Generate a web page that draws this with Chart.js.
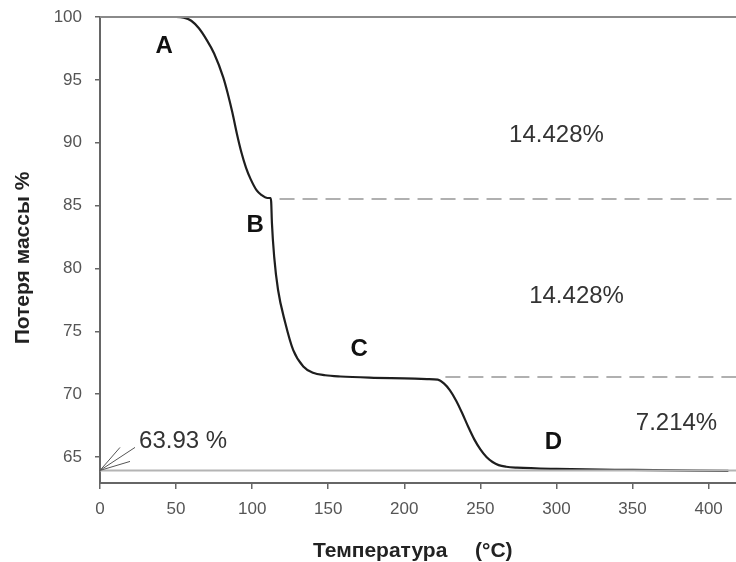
<!DOCTYPE html>
<html lang="ru">
<head>
<meta charset="utf-8">
<title>Потеря массы</title>
<script src="https://cdn.jsdelivr.net/npm/chart.js@4.4.1/dist/chart.umd.min.js"></script>
<style>
  html, body { margin: 0; padding: 0; background: #fff; }
  canvas { display: block; }
</style>
</head>
<body>
<canvas id="tga" width="736" height="562"></canvas>
<script>
(function () {
  'use strict';

  // TGA curve
  var TEMP = [24, 40, 50, 55, 60, 65, 70, 75, 81, 84, 87, 90, 93, 96, 99, 103, 106, 110, 112,
              112.5, 113, 114.5, 117, 121.7, 127, 133.6, 140, 148, 158, 180, 200, 215, 222,
              226, 230, 234, 238, 242, 246, 250, 254, 258, 262, 267, 274, 300, 350, 413];
  var MASS = [100, 100, 100, 99.95, 99.7, 99.1, 98.2, 97.1, 95.2, 93.9, 92.4, 90.7, 89.2, 88.0, 87.1, 86.2, 85.85, 85.6, 85.6,
              85.3, 83.6, 80.9, 78.3, 75.7, 73.5, 72.2, 71.7, 71.5, 71.4, 71.3, 71.25, 71.2, 71.15,
              70.85, 70.3, 69.5, 68.5, 67.4, 66.4, 65.6, 65.0, 64.6, 64.35, 64.22, 64.15, 64.05, 63.97, 63.9];

  var X_TICKS = [0, 50, 100, 150, 200, 250, 300, 350, 400];
  var Y_TICKS = [65, 70, 75, 80, 85, 90, 95, 100];
  var X_MAX = 418;
  var Y_MIN = 62.93;

  var START_LEVEL = 100;
  var RESIDUE = 63.93;
  var STEP_LEVELS = [85.52, 71.36];
  var STEP_FROM = [118, 227];

  var STAGES = ['A', 'B', 'C', 'D'];
  var LOSSES = ['14.428%', '14.428%', '7.214%'];

  var TEXT_FONT = "'Liberation Sans', Arial, sans-serif";

  function pts(xs, ys) {
    return xs.map(function (x, i) { return { x: x, y: ys[i] }; });
  }
  function hline(y, x0, x1) {
    return [{ x: x0, y: y }, { x: x1, y: y }];
  }

  var datasets = [
    { data: hline(START_LEVEL, 0, X_MAX), borderColor: '#8a8a8a', borderWidth: 2, clip: 4 },
    { data: hline(RESIDUE, 0, X_MAX), borderColor: '#b4b4b4', borderWidth: 2 },
    { data: hline(STEP_LEVELS[0], STEP_FROM[0], X_MAX), borderColor: '#b0b0b0', borderWidth: 2, borderDash: [15, 8] },
    { data: hline(STEP_LEVELS[1], STEP_FROM[1], X_MAX), borderColor: '#b0b0b0', borderWidth: 2, borderDash: [15, 8] },
    { data: pts(TEMP, MASS), borderColor: '#1e1e1e', borderWidth: 2.2, cubicInterpolationMode: 'monotone' }
  ];

  // stage letters, loss percentages, residue note and axis titles
  var annotations = {
    id: 'annotations',
    afterDatasetsDraw: function (chart) {
      var c = chart.ctx, xs = chart.scales.x, ys = chart.scales.y;
      function px(v) { return xs.getPixelForValue(v); }
      function py(v) { return ys.getPixelForValue(v); }
      function text(str, x, y, font, color) {
        c.font = font; c.fillStyle = color;
        c.textAlign = 'center'; c.textBaseline = 'middle';
        c.fillText(str, x, y);
      }
      c.save();
      var stagePos = [[42.1, 97.69], [102, 83.45], [170.4, 73.59], [298, 66.19]];
      STAGES.forEach(function (s, i) {
        text(s, px(stagePos[i][0]), py(stagePos[i][1]), 'bold 24px ' + TEXT_FONT, '#111');
      });
      var lossPos = [[300, 90.61], [313.2, 77.81], [378.9, 67.70]];
      LOSSES.forEach(function (s, i) {
        text(s, px(lossPos[i][0]), py(lossPos[i][1]), '24px ' + TEXT_FONT, '#333');
      });
      text(RESIDUE + ' %', px(54.6), py(66.27), '24px ' + TEXT_FONT, '#333');

      // little fan of leader lines from the residue level at 0 °C
      var ox = px(0), oy = py(RESIDUE);
      c.strokeStyle = '#555'; c.lineWidth = 1;
      [[20, -23], [35, -23], [30, -9]].forEach(function (d) {
        c.beginPath(); c.moveTo(ox, oy); c.lineTo(ox + d[0], oy + d[1]); c.stroke();
      });

      // axis titles
      c.fillStyle = '#222';
      c.font = 'bold 21px ' + TEXT_FONT;
      c.textAlign = 'left'; c.textBaseline = 'alphabetic';
      c.fillText('Температура', 313, 557);
      c.fillText('(°C)', 475, 557);
      c.translate(29, 258);
      c.rotate(-Math.PI / 2);
      c.textAlign = 'center';
      c.fillText('Потеря массы %', 0, 0);
      c.restore();
    }
  };

  function keepTicks(list) {
    return function (scale) {
      scale.ticks = list.map(function (v) { return { value: v }; });
    };
  }

  new Chart(document.getElementById('tga'), {
    type: 'line',
    data: { datasets: datasets },
    options: {
      responsive: false,
      animation: false,
      devicePixelRatio: 1,
      layout: { padding: { top: 17, right: 0, left: 0, bottom: 0 } },
      elements: { point: { radius: 0 }, line: { fill: false } },
      plugins: { legend: { display: false }, tooltip: { enabled: false } },
      scales: {
        x: {
          type: 'linear', min: 0, max: X_MAX,
          afterBuildTicks: keepTicks(X_TICKS),
          afterFit: function (s) { s.height = 79; s.paddingLeft = 0; s.paddingRight = 0; },
          grid: { drawOnChartArea: false, tickLength: 6, color: '#666', lineWidth: 1.5 },
          border: { color: '#666', width: 2 },
          ticks: { padding: 10, color: '#555', font: { family: TEXT_FONT, size: 17 }, maxRotation: 0 }
        },
        y: {
          type: 'linear', min: Y_MIN, max: 100,
          afterBuildTicks: keepTicks(Y_TICKS),
          afterFit: function (s) { s.width = 100; s.paddingTop = 0; s.paddingBottom = 0; },
          grid: { drawOnChartArea: false, tickLength: 5, color: '#666', lineWidth: 1.5 },
          border: { color: '#666', width: 2 },
          ticks: { padding: 13, color: '#555', font: { family: TEXT_FONT, size: 17 } }
        }
      }
    },
    plugins: [annotations]
  });
})();
</script>
</body>
</html>
